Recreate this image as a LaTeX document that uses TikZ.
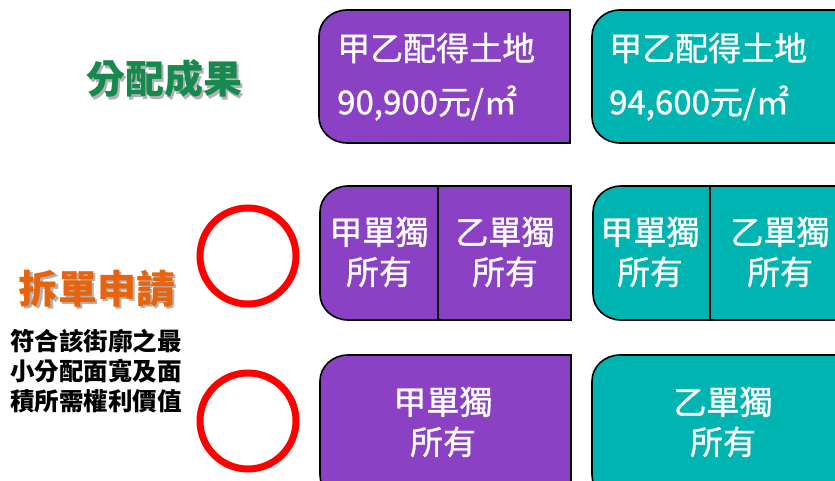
\documentclass[tikz,border=0pt]{standalone}
\usepackage{fontspec}
\setmainfont{Noto Sans CJK TC}
\newfontfamily\boxfont[FakeBold=1]{Noto Sans CJK TC}
\definecolor{boxpurple}{RGB}{139,65,195}
\definecolor{boxteal}{RGB}{0,180,178}
\definecolor{titlegreen}{RGB}{22,138,78}
\definecolor{titleorange}{RGB}{232,100,12}
\definecolor{ringred}{RGB}{255,0,0}
\tikzset{
  boxshape/.style={draw=black, line width=1.6pt},
  boxtext/.style={text=white, font=\boxfont\fontsize{33}{36}\selectfont, inner sep=0pt},
  celltext/.style={text=white, font=\boxfont\fontsize{33}{40}\selectfont, align=center, inner sep=0pt},
  titletext/.style={font=\fontsize{39}{40}\selectfont\bfseries, inner sep=0pt},
  notetext/.style={font=\fontsize{24.5}{30}\selectfont\bfseries, inner sep=0pt, align=left, text=black},
  ring/.style={draw=ringred, line width=7pt, circle, minimum size=96pt, inner sep=0pt},
}
\newcommand\shadowed[2]{\makebox[0pt][l]{\hspace{2pt}\raisebox{-2.5pt}{\textcolor{black!30}{#2}}}\textcolor{#1}{#2}}
% left-rounded box: x1, top, x2, bottom (y upward), colour
\newcommand\leftroundbox[5]{%
  \filldraw[boxshape, fill=#5] (#3,#2) -- ({#1+28},#2)
    arc[start angle=90, end angle=180, x radius=28pt, y radius=26pt]
    -- (#1,{#4+26})
    arc[start angle=180, end angle=270, x radius=28pt, y radius=26pt]
    -- (#3,#4) -- cycle;}
\begin{document}
\begin{tikzpicture}[x=1pt, y=1pt]
\useasboundingbox (0,0) rectangle (835,481);
% row 1 boxes
\leftroundbox{319}{471}{570}{338}{boxpurple}
\leftroundbox{592}{471}{860}{338}{boxteal}
% row 2 boxes
\leftroundbox{320}{295}{571}{161}{boxpurple}
\leftroundbox{593}{295}{860}{161}{boxteal}
\draw[boxshape] (438,295) -- (438,161);
\draw[boxshape] (710,295) -- (710,161);
% row 3 boxes
\leftroundbox{320}{126}{571}{-20}{boxpurple}
\leftroundbox{592}{126}{860}{-20}{boxteal}

% row 1 text
\node[boxtext, anchor=west] (pa1) at (337,433) {甲乙配得土地};
\node[boxtext, anchor=west] (pa2) at (337,378) {90,900元/㎡};
\node[boxtext, anchor=west] (ta1) at (609,433) {甲乙配得土地};
\node[boxtext, anchor=west] (ta2) at (609,378) {94,600元/㎡};
% row 2 text
\node[celltext] (pb1) at (379,229) {甲單獨\\所有};
\node[celltext] (pb2) at (505,229) {乙單獨\\所有};
\node[celltext] (tb1) at (650,229) {甲單獨\\所有};
\node[celltext] (tb2) at (780,229) {乙單獨\\所有};
% row 3 text
\node[celltext] (pc1) at (443,59) {甲單獨\\所有};
\node[celltext] (tc1) at (723,59) {乙單獨\\所有};

% titles
\node[titletext] (t1) at (164,401) {\shadowed{titlegreen}{分配成果}};
\node[titletext] (t2) at (97,191) {\shadowed{titleorange}{拆單申請}};
\node[notetext, anchor=north west] (note) at (10,152) {符合該街廓之最\\小分配面寬及面\\積所需權利價值};

% red rings
\node[ring] (r1) at (248,225) {};
\node[ring] (r2) at (248,60) {};
\end{tikzpicture}
\end{document}
